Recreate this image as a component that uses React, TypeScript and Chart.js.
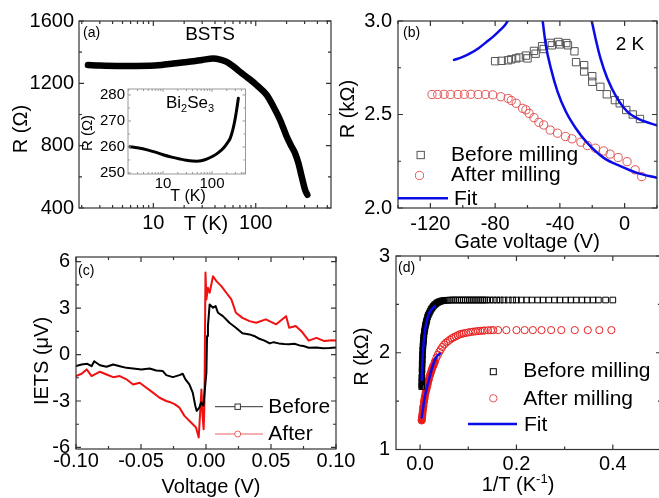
import React, { useEffect, useRef } from 'react';
import { Chart, registerables } from 'chart.js';
Chart.register(...registerables);

const FONT = '"Liberation Sans", Arial, Helvetica, sans-serif';
const CW = 670;
const CH = 498;

// ---------- (a) BSTS R(T) ----------
const aTemp = [2.3, 3, 4.4, 6, 9.3, 12, 15.7, 20, 24.6, 30, 38.5, 45, 52, 60, 70, 85, 102, 128, 149, 173, 201, 224, 242, 261, 281, 303, 319];
const aRes = [1317, 1314, 1312, 1312, 1313, 1318, 1327, 1335, 1342, 1350, 1359, 1352, 1338, 1310, 1274, 1232, 1189, 1125, 1050, 965, 857, 794, 752, 688, 602, 517, 485];
const aYTicks = [400, 800, 1200, 1600];
const aYMinor = [600, 1000, 1400];
const logXTicks = [10, 100];
const logXMinor = [2, 3, 4, 5, 6, 7, 8, 9, 20, 30, 40, 50, 60, 70, 80, 90, 200, 300, 400, 500];

// ---------- inset Bi2Se3 ----------
const insetTemp = [2.1, 3, 5, 7, 10, 15, 22, 30, 40, 49, 60, 80, 106, 135, 170, 210, 235, 265, 294, 320, 345];
const insetRes = [260.1, 259.7, 258.8, 258, 257, 256.1, 255.4, 254.9, 254.6, 254.55, 254.7, 255.4, 256.5, 257.8, 259.5, 261.8, 263.3, 266.5, 270.4, 274.5, 278.7];
const insetYTicks = [250, 260, 270, 280];
const insetYMinor = [255, 265, 275];

// ---------- (b) gate voltage ----------
const bBeforeV = [-80, -76, -72, -70, -67, -65, -61, -60, -56, -55, -51, -50, -46, -45, -41, -40, -36, -35, -31, -30, -25, -25, -20, -20, -15, -11, -6, -3, 1, 5, 9.5];
const bBeforeR = [2.785, 2.787, 2.79, 2.795, 2.8, 2.805, 2.815, 2.8, 2.84, 2.825, 2.865, 2.85, 2.883, 2.87, 2.888, 2.875, 2.882, 2.87, 2.838, 2.78, 2.764, 2.73, 2.705, 2.675, 2.648, 2.608, 2.577, 2.56, 2.524, 2.5, 2.476];
const bAfterV = [-119, -115.5, -111.5, -107.5, -103, -99, -95, -90.5, -86, -81.5, -76.5, -72, -70, -67, -63, -61, -59, -56, -53, -50, -46, -41.5, -36.5, -32.5, -27, -23, -18, -13, -9, -4, 1.5, 6.5, 10.5];
const bAfterR = [2.607, 2.607, 2.608, 2.607, 2.607, 2.608, 2.608, 2.607, 2.607, 2.605, 2.595, 2.586, 2.575, 2.56, 2.533, 2.525, 2.506, 2.483, 2.458, 2.444, 2.417, 2.4, 2.382, 2.37, 2.352, 2.334, 2.32, 2.305, 2.288, 2.27, 2.248, 2.204, 2.168];
const bFit1V = [-105.4, -100, -95.2, -90, -85, -80.5, -76.8, -73.5, -71.6];
const bFit1R = [2.792, 2.808, 2.828, 2.856, 2.89, 2.922, 2.952, 2.983, 3.01];
const bFit2V = [-50.9, -48.7, -45.6, -41.5, -36.4, -30.3, -23.1, -12.9, -2.6, 7.6, 19.9];
const bFit2R = [3.02, 2.872, 2.748, 2.624, 2.517, 2.428, 2.348, 2.268, 2.224, 2.188, 2.162];
const bFit3V = [-20.8, -18, -14.9, -10.8, -4.7, 1.5, 9.6, 19.9];
const bFit3R = [3.02, 2.908, 2.8, 2.695, 2.588, 2.517, 2.472, 2.442];
const bXTicks = [-120, -80, -40, 0];
const bXMinor = [-140, -100, -60, -20, 20];
const bYTicks = [2.0, 2.5, 3.0];
const bYMinor = [2.25, 2.75];

// ---------- (c) IETS ----------
const cBeforeV = [-0.1, -0.0957, -0.0913, -0.088, -0.086, -0.0816, -0.0765, -0.0714, -0.0663, -0.0612, -0.0561, -0.0497, -0.0434, -0.0383, -0.0332, -0.0306, -0.0255, -0.0204, -0.0179, -0.0158, -0.0128, -0.0102, -0.0082, -0.0071, -0.0051, -0.0038, -0.002, 0.0003, 0.0008, 0.0015, 0.0028, 0.0054, 0.0074, 0.0092, 0.013, 0.018, 0.023, 0.028, 0.0335, 0.037, 0.041, 0.045, 0.049, 0.052, 0.056, 0.06, 0.064, 0.068, 0.072, 0.075, 0.079, 0.085, 0.09, 0.095, 0.1];
const cBefore = [-0.75, -0.64, -0.6, -0.75, -0.43, -0.69, -0.79, -0.64, -0.75, -0.86, -0.9, -0.96, -0.9, -1.03, -1.07, -1.33, -1.46, -1.33, -1.24, -1.6, -1.93, -2.46, -3.32, -3.64, -3.43, -3.1, -3.3, -1.17, 1.19, 1.84, 3.24, 3.02, 3.13, 2.7, 2.48, 2.05, 1.73, 1.37, 1.3, 1.2, 1.02, 0.9, 0.72, 0.8, 0.72, 0.68, 0.66, 0.7, 0.59, 0.55, 0.44, 0.45, 0.4, 0.42, 0.45];
const cAfterV = [-0.1, -0.0957, -0.0918, -0.088, -0.0816, -0.0765, -0.0714, -0.0663, -0.0612, -0.0561, -0.051, -0.0459, -0.0408, -0.0357, -0.0306, -0.0268, -0.0242, -0.0204, -0.0166, -0.0115, -0.0077, -0.0056, -0.0035, -0.0028, -0.0018, -0.0012, -0.0004, 0.0003, 0.0015, 0.0028, 0.0054, 0.008, 0.0118, 0.0156, 0.0195, 0.023, 0.028, 0.0335, 0.0386, 0.046, 0.054, 0.0616, 0.064, 0.069, 0.074, 0.079, 0.085, 0.091, 0.097, 0.1];
const cAfter = [-1.39, -1.24, -0.96, -1.39, -1.11, -1.29, -1.46, -1.39, -1.6, -1.93, -1.82, -2.14, -2.46, -2.79, -3.0, -3.1, -3.2, -3.43, -3.96, -4.39, -4.71, -5.36, -2.25, -3.75, -4.83, -3.11, 5.3, 3.56, 4.31, 3.99, 5.06, 4.74, 4.42, 3.99, 3.56, 2.7, 2.37, 2.16, 2.05, 2.27, 1.95, 2.48, 1.73, 1.84, 1.45, 0.9, 1.08, 0.87, 0.92, 0.9];
const cXTicks = [-0.1, -0.05, 0, 0.05, 0.1];
const cXMinor = [-0.075, -0.025, 0.025, 0.075];
const cYTicks = [-6, -3, 0, 3, 6];
const cYMinor = [-4.5, -1.5, 1.5, 4.5];

// ---------- (d) R vs 1/T ----------
const dBeforeX = [0.0033, 0.0035, 0.0037, 0.004, 0.0043, 0.0046, 0.005, 0.0055, 0.006, 0.0065, 0.007, 0.0075, 0.008, 0.009, 0.01, 0.011, 0.012, 0.013, 0.014, 0.0155, 0.017, 0.019, 0.021, 0.023, 0.025, 0.0275, 0.03, 0.0325, 0.035, 0.0375, 0.04, 0.043, 0.046, 0.05, 0.054, 0.058, 0.062, 0.066, 0.07, 0.074, 0.078, 0.082, 0.086, 0.09, 0.094, 0.098, 0.102, 0.106, 0.11, 0.114, 0.118, 0.122, 0.126, 0.13, 0.134, 0.138, 0.145, 0.152, 0.159, 0.166, 0.174, 0.183, 0.192, 0.2, 0.21, 0.221, 0.232, 0.244, 0.255, 0.267, 0.279, 0.29, 0.302, 0.313, 0.324, 0.336, 0.347, 0.359, 0.37, 0.385, 0.4];
const dBeforeR = [1.65, 1.7, 1.75, 1.82, 1.88, 1.93, 1.98, 2.03, 2.07, 2.1, 2.13, 2.16, 2.18, 2.22, 2.25, 2.28, 2.3, 2.32, 2.34, 2.37, 2.39, 2.41, 2.43, 2.45, 2.465, 2.48, 2.495, 2.505, 2.515, 2.522, 2.528, 2.533, 2.537, 2.54, 2.542, 2.543, 2.544, 2.545, 2.545, 2.545, 2.545, 2.545, 2.545, 2.545, 2.545, 2.545, 2.545, 2.545, 2.545, 2.545, 2.545, 2.545, 2.545, 2.545, 2.545, 2.545, 2.545, 2.545, 2.545, 2.545, 2.545, 2.545, 2.545, 2.545, 2.545, 2.545, 2.545, 2.545, 2.545, 2.545, 2.545, 2.545, 2.545, 2.545, 2.545, 2.545, 2.545, 2.545, 2.545, 2.545, 2.545];
const dAfterX = [0.0033, 0.0036, 0.004, 0.0045, 0.005, 0.0056, 0.0063, 0.007, 0.008, 0.009, 0.01, 0.0115, 0.013, 0.0145, 0.016, 0.018, 0.02, 0.022, 0.024, 0.026, 0.028, 0.031, 0.034, 0.037, 0.04, 0.043, 0.046, 0.05, 0.054, 0.058, 0.062, 0.066, 0.07, 0.074, 0.078, 0.082, 0.086, 0.09, 0.095, 0.1, 0.105, 0.11, 0.115, 0.12, 0.125, 0.13, 0.134, 0.141, 0.147, 0.152, 0.162, 0.179, 0.2, 0.217, 0.234, 0.252, 0.272, 0.293, 0.321, 0.348, 0.372, 0.397];
const dAfterR = [1.3, 1.31, 1.33, 1.35, 1.37, 1.4, 1.43, 1.45, 1.49, 1.52, 1.55, 1.59, 1.62, 1.65, 1.68, 1.72, 1.76, 1.79, 1.82, 1.85, 1.87, 1.91, 1.95, 1.98, 2.01, 2.035, 2.06, 2.085, 2.105, 2.12, 2.135, 2.15, 2.16, 2.17, 2.18, 2.19, 2.195, 2.2, 2.205, 2.21, 2.215, 2.218, 2.221, 2.224, 2.226, 2.228, 2.23, 2.232, 2.233, 2.234, 2.234, 2.234, 2.234, 2.234, 2.234, 2.234, 2.234, 2.234, 2.234, 2.234, 2.234, 2.234];
const dFitBX = [0.0033, 0.005, 0.007, 0.01, 0.014, 0.02, 0.026, 0.031];
const dFitBR = [1.72, 1.93, 2.08, 2.22, 2.33, 2.42, 2.46, 2.48];
const dFitAX = [0.0033, 0.006, 0.0104, 0.0173, 0.0242, 0.031, 0.036, 0.041];
const dFitAR = [1.33, 1.42, 1.56, 1.7, 1.83, 1.93, 1.97, 1.99];
const dXTicks = [0, 0.2, 0.4];
const dXMinor = [0.1, 0.3, 0.5];
const dYTicks = [1, 2, 3];
const dYMinor = [1.5, 2.5];
// number of leading (densely measured, high-temperature) points that merge into a solid band
const dBeforeDense = 34;
const dAfterDense = 22;

// ---------- helpers ----------
const pts = (xs: number[], ys: number[]) => xs.map((x, i) => ({ x, y: ys[i] }));
const BLUE = '#0b0be8';

function text(ctx: any, s: string, x: number, y: number, size: number, o: any = {}) {
  ctx.save();
  ctx.font = `${size}px ${FONT}`;
  ctx.fillStyle = o.color || '#000';
  ctx.textAlign = o.align || 'left';
  ctx.textBaseline = o.baseline || 'middle';
  if (o.rotate) {
    ctx.translate(x, y);
    ctx.rotate(o.rotate);
    ctx.fillText(s, 0, 0);
  } else ctx.fillText(s, x, y);
  ctx.restore();
}
// parts: [text, size, dy]; y = baseline
function runs(ctx: any, parts: [string, number, number][], x: number, y: number, center = false) {
  ctx.save();
  ctx.fillStyle = '#000';
  ctx.textBaseline = 'alphabetic';
  ctx.textAlign = 'left';
  const widths = parts.map(([s, sz]) => { ctx.font = `${sz}px ${FONT}`; return ctx.measureText(s).width; });
  const total = widths.reduce((a, b) => a + b, 0);
  let cx = center ? x - total / 2 : x;
  parts.forEach(([s, sz, dy], i) => { ctx.font = `${sz}px ${FONT}`; ctx.fillText(s, cx, y + dy); cx += widths[i]; });
  ctx.restore();
}
function sq(ctx: any, x: number, y: number, side: number, color: string) {
  ctx.save(); ctx.strokeStyle = color; ctx.lineWidth = 1; ctx.strokeRect(x - side / 2, y - side / 2, side, side); ctx.restore();
}
function circ(ctx: any, x: number, y: number, r: number, color: string) {
  ctx.save(); ctx.strokeStyle = color; ctx.fillStyle = '#fff'; ctx.lineWidth = 1; ctx.beginPath(); ctx.arc(x, y, r, 0, Math.PI * 2); ctx.fill(); ctx.stroke(); ctx.restore();
}
function hline(ctx: any, x1: number, x2: number, y: number, color: string, w: number) {
  ctx.save(); ctx.strokeStyle = color; ctx.lineWidth = w; ctx.beginPath(); ctx.moveTo(x1, y); ctx.lineTo(x2, y); ctx.stroke(); ctx.restore();
}

function framePlugin(o: any) {
  return {
    id: 'frame',
    beforeDraw(chart: any) {
      if (!o.fill) return;
      const a = chart.chartArea; const ctx = chart.ctx;
      ctx.save(); ctx.fillStyle = '#fff'; ctx.fillRect(a.left, a.top, a.right - a.left, a.bottom - a.top); ctx.restore();
    },
    afterDraw(chart: any) {
      const { ctx, chartArea: a, scales } = chart;
      ctx.save();
      ctx.strokeStyle = o.color; ctx.lineWidth = o.width;
      ctx.strokeRect(a.left, a.top, a.right - a.left, a.bottom - a.top);
      ctx.beginPath();
      const doX = (vals: number[], len: number) => vals.forEach((v) => {
        const p = scales.x.getPixelForValue(v);
        if (p < a.left - 0.5 || p > a.right + 0.5) return;
        ctx.moveTo(p, a.bottom); ctx.lineTo(p, a.bottom - len);
        ctx.moveTo(p, a.top); ctx.lineTo(p, a.top + len);
      });
      const doY = (vals: number[], len: number) => vals.forEach((v) => {
        const p = scales.y.getPixelForValue(v);
        if (p < a.top - 0.5 || p > a.bottom + 0.5) return;
        ctx.moveTo(a.left, p); ctx.lineTo(a.left + len, p);
        ctx.moveTo(a.right, p); ctx.lineTo(a.right - len, p);
      });
      doX(o.xMajor, o.majorLen); doX(o.xMinor, o.minorLen);
      doY(o.yMajor, o.majorLen); doY(o.yMinor, o.minorLen);
      ctx.stroke();
      ctx.restore();
    },
  };
}
function decoPlugin(fn: (ctx: any, chart: any) => void) {
  return { id: 'deco', afterDraw(chart: any) { fn(chart.ctx, chart); } };
}

function makeChart(canvas: any, p: any) {
  const axis = (type: string, min: number, max: number, vals: number[], fmt: (v: number) => string, size: number, pad: number, fit: (s: any) => void) => ({
    type, min, max,
    grid: { display: false, drawTicks: false },
    border: { display: false },
    ticks: { font: { size, family: FONT }, color: '#000', padding: pad, autoSkip: false, maxRotation: 0, minRotation: 0, callback: (v: any) => fmt(Number(v)) },
    afterBuildTicks: (ax: any) => { ax.ticks = vals.map((v) => ({ value: v })); },
    afterFit: (s: any) => { fit(s); s.paddingLeft = 0; s.paddingRight = 0; s.paddingTop = 0; s.paddingBottom = 0; },
  });
  return new Chart(canvas, {
    type: 'line',
    data: { datasets: p.datasets },
    options: {
      responsive: false,
      animation: false,
      events: [],
      layout: { padding: { left: 0, top: p.T, right: CW - p.R, bottom: 0 } },
      plugins: { legend: { display: false }, tooltip: { enabled: false } },
      scales: {
        x: axis(p.xType || 'linear', p.xMin, p.xMax, p.xTicks, p.xFmt, p.tickSize || 20, p.xPad, (s: any) => { s.height = CH - p.B; }),
        y: axis('linear', p.yMin, p.yMax, p.yTicks, p.yFmt, p.tickSize || 20, p.yPad, (s: any) => { s.width = p.L; }),
      },
    } as any,
    plugins: [framePlugin(p.frame), decoPlugin(p.deco)],
  } as any);
}

const lineDs = (data: any[], color: string, width: number, smooth: boolean) => ({
  data, borderColor: color, borderWidth: width, pointRadius: 0, fill: false,
  cubicInterpolationMode: smooth ? 'monotone' : 'default', tension: 0, borderJoinStyle: 'round', borderCapStyle: 'round',
});
const markDs = (data: any[], style: string, r: number, color: string) => ({
  data, showLine: false, pointStyle: style, pointRadius: r, pointBorderColor: color,
  pointBackgroundColor: 'rgba(0,0,0,0)', pointBorderWidth: 1, borderColor: color,
});

const FRAME = '#333';

export default function App() {
  const r0 = useRef<HTMLCanvasElement>(null);
  const r1 = useRef<HTMLCanvasElement>(null);
  const r2 = useRef<HTMLCanvasElement>(null);
  const r3 = useRef<HTMLCanvasElement>(null);
  const r4 = useRef<HTMLCanvasElement>(null);

  useEffect(() => {
    const charts: any[] = [];
    // (a)
    charts.push(makeChart(r0.current, {
      L: 79, T: 21, R: 331, B: 208,
      xType: 'logarithmic', xMin: 1.88, xMax: 543, yMin: 400, yMax: 1600,
      xTicks: logXTicks, yTicks: aYTicks, xFmt: (v: number) => String(v), yFmt: (v: number) => String(v),
      xPad: 3, yPad: 5,
      datasets: [lineDs(pts(aTemp, aRes), '#000', 6.5, true)],
      frame: { xMajor: logXTicks, xMinor: logXMinor, yMajor: aYTicks, yMinor: aYMinor, color: FRAME, width: 1.2, majorLen: 5, minorLen: 3 },
      deco: (ctx: any) => {
        text(ctx, '(a)', 83, 33, 14);
        text(ctx, 'BSTS', 210, 35, 19, { align: 'center' });
        text(ctx, 'R (\u03A9)', 21, 129, 20, { align: 'center', rotate: -Math.PI / 2 });
        text(ctx, 'T (K)', 206, 224, 20, { align: 'center' });
      },
    }));
    // inset
    charts.push(makeChart(r1.current, {
      L: 128, T: 89, R: 245.5, B: 174,
      xType: 'logarithmic', xMin: 1.93, xMax: 483, yMin: 249.6, yMax: 282.3,
      xTicks: logXTicks, yTicks: insetYTicks, xFmt: (v: number) => String(v), yFmt: (v: number) => String(v),
      tickSize: 15, xPad: 1, yPad: 3,
      datasets: [lineDs(pts(insetTemp, insetRes), '#000', 3, true)],
      frame: { fill: true, xMajor: logXTicks, xMinor: logXMinor, yMajor: insetYTicks, yMinor: insetYMinor, color: '#999', width: 1, majorLen: 3, minorLen: 2 },
      deco: (ctx: any) => {
        runs(ctx, [['Bi', 17, 0], ['2', 11, 4], ['Se', 17, 0], ['3', 11, 4]], 166, 108);
        text(ctx, 'R (\u03A9)', 88, 133, 15, { align: 'center', rotate: -Math.PI / 2 });
        text(ctx, 'T (K)', 188, 197, 16, { align: 'center' });
      },
    }));
    // (b)
    charts.push(makeChart(r2.current, {
      L: 398, T: 21, R: 657, B: 208,
      xMin: -140, xMax: 20, yMin: 2, yMax: 3,
      xTicks: bXTicks, yTicks: bYTicks, xFmt: (v: number) => String(v), yFmt: (v: number) => v.toFixed(1),
      xPad: 4, yPad: 6,
      datasets: [
        lineDs(pts(bFit1V, bFit1R), BLUE, 2.5, true),
        lineDs(pts(bFit2V, bFit2R), BLUE, 2.5, true),
        lineDs(pts(bFit3V, bFit3R), BLUE, 2.5, true),
        markDs(pts(bBeforeV, bBeforeR), 'rect', 5.2, '#555'),
        markDs(pts(bAfterV, bAfterR), 'circle', 4.1, '#e05555'),
      ],
      frame: { xMajor: bXTicks, xMinor: bXMinor, yMajor: bYTicks, yMinor: bYMinor, color: FRAME, width: 1.2, majorLen: 5, minorLen: 3 },
      deco: (ctx: any) => {
        text(ctx, '(b)', 403, 33, 14);
        text(ctx, '2 K', 630, 45, 19, { align: 'center' });
        text(ctx, 'R (k\u03A9)', 348, 109, 20, { align: 'center', rotate: -Math.PI / 2 });
        text(ctx, 'Gate voltage (V)', 527, 242, 20, { align: 'center' });
        sq(ctx, 420.7, 155, 7.3, '#555');
        text(ctx, 'Before milling', 451, 155, 21);
        circ(ctx, 419.5, 175.5, 4.1, '#e05555');
        text(ctx, 'After milling', 451, 175.5, 21);
        hline(ctx, 398, 448, 198.3, BLUE, 2.5);
        text(ctx, 'Fit', 454, 199, 21);
      },
    }));
    // (c)
    charts.push(makeChart(r3.current, {
      L: 76, T: 257, R: 336, B: 449,
      xMin: -0.1, xMax: 0.1, yMin: -6.1, yMax: 6.3,
      xTicks: cXTicks, yTicks: cYTicks, xFmt: (v: number) => v.toFixed(2), yFmt: (v: number) => String(v),
      xPad: 0, yPad: 6,
      datasets: [
        lineDs(pts(cBeforeV, cBefore), '#000', 2, false),
        lineDs(pts(cAfterV, cAfter), '#f01010', 2, false),
      ],
      frame: { xMajor: cXTicks, xMinor: cXMinor, yMajor: cYTicks, yMinor: cYMinor, color: FRAME, width: 1.2, majorLen: 5, minorLen: 3 },
      deco: (ctx: any) => {
        text(ctx, '(c)', 78, 271.5, 14);
        text(ctx, 'IETS (\u03BCV)', 42.5, 361, 20, { align: 'center', rotate: -Math.PI / 2 });
        text(ctx, 'Voltage (V)', 211, 487, 20, { align: 'center' });
        hline(ctx, 215, 263, 406.7, '#333', 1);
        ctx.save(); ctx.fillStyle = '#fff'; ctx.fillRect(235, 404, 5.4, 5.4); ctx.restore();
        sq(ctx, 237.7, 406.7, 5.4, '#333');
        text(ctx, 'Before', 268.3, 407.5, 21);
        hline(ctx, 215, 263, 434, '#e86060', 1);
        circ(ctx, 237.7, 434, 3, '#e86060');
        text(ctx, 'After', 268.3, 434, 21);
      },
    }));
    // (d)
    charts.push(makeChart(r4.current, {
      L: 396, T: 256, R: 661, B: 449.5,
      xMin: -0.05, xMax: 0.5, yMin: 1, yMax: 3,
      xTicks: dXTicks, yTicks: dYTicks, xFmt: (v: number) => v.toFixed(1), yFmt: (v: number) => String(v),
      xPad: 3, yPad: 6,
      datasets: [
        lineDs(pts(dFitBX, dFitBR), BLUE, 2.5, true),
        lineDs(pts(dFitAX, dFitAR), BLUE, 2.5, true),
        markDs(pts(dBeforeX, dBeforeR), 'rect', 4, '#000'),
        markDs(pts(dAfterX, dAfterR), 'circle', 3.6, '#e82020'),
        lineDs(pts(dBeforeX.slice(0, dBeforeDense), dBeforeR.slice(0, dBeforeDense)), '#000', 6, true),
        lineDs(pts(dAfterX.slice(0, dAfterDense), dAfterR.slice(0, dAfterDense)), '#ee1111', 7, true),
      ],
      frame: { xMajor: dXTicks, xMinor: dXMinor, yMajor: dYTicks, yMinor: dYMinor, color: FRAME, width: 1.2, majorLen: 5, minorLen: 3 },
      deco: (ctx: any) => {
        text(ctx, '(d)', 398, 268.5, 14);
        text(ctx, 'R (k\u03A9)', 362.5, 356.7, 20, { align: 'center', rotate: -Math.PI / 2 });
        runs(ctx, [['1/T (K', 20, 0], ['-1', 13, -8], [')', 20, 0]], 518, 491, true);
        sq(ctx, 493.3, 371.7, 6, '#000');
        text(ctx, 'Before milling', 523.3, 371, 21);
        circ(ctx, 493.3, 398.3, 3.7, '#e05555');
        text(ctx, 'After milling', 523.3, 399, 21);
        hline(ctx, 468, 517, 424, BLUE, 2.5);
        text(ctx, 'Fit', 524, 425, 21);
      },
    }));
    return () => charts.forEach((c) => c.destroy());
  }, []);

  const cs: any = { position: 'absolute', left: 0, top: 0, width: CW, height: CH };
  return (
    <div style={{ position: 'fixed', left: 0, top: 0, width: 659, height: 498, overflow: 'hidden', background: '#fff' }}>
      <canvas ref={r0} width={CW} height={CH} style={cs} />
      <canvas ref={r1} width={CW} height={CH} style={cs} />
      <canvas ref={r2} width={CW} height={CH} style={cs} />
      <canvas ref={r3} width={CW} height={CH} style={cs} />
      <canvas ref={r4} width={CW} height={CH} style={cs} />
    </div>
  );
}
